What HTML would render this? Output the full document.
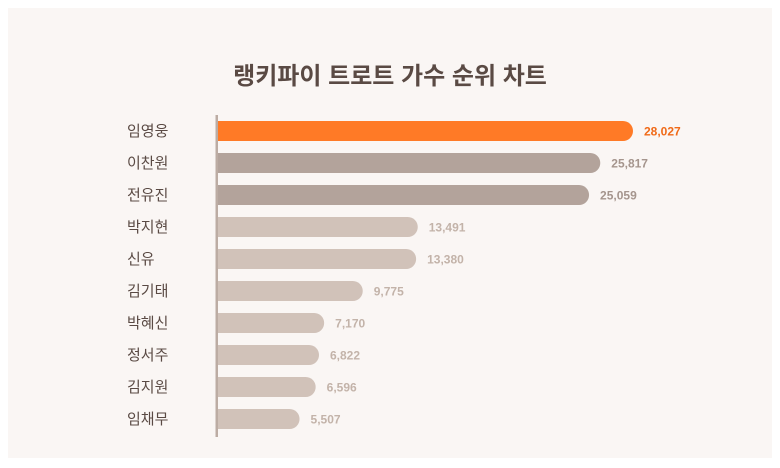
<!DOCTYPE html>
<html><head><meta charset="utf-8"><style>
html,body{margin:0;padding:0;background:#fff;}
body{width:780px;height:468px;position:relative;overflow:hidden;font-family:"Liberation Sans","Noto Sans CJK KR",sans-serif;}
#card{position:absolute;left:8px;top:8px;width:764px;height:450px;background:#faf6f4;}
</style></head><body>
<div id="card"></div>
<svg id="chart" width="780" height="468" style="position:absolute;left:0;top:0">
<text x="390" y="84" text-anchor="middle" font-size="24" font-weight="bold" fill="#5a4a44" font-family="Liberation Sans, Noto Sans CJK KR, sans-serif">랭키파이 트로트 가수 순위 차트</text>
</svg>
<script>
const categories=["임영웅","이찬원","전유진","박지현","신유","김기태","박혜신","정서주","김지원","임채무"];
const values=[28027,25817,25059,13491,13380,9775,7170,6822,6596,5507];
const valueLabels=["28,027","25,817","25,059","13,491","13,380","9,775","7,170","6,822","6,596","5,507"];
const svg=document.getElementById('chart');
const NS='http://www.w3.org/2000/svg';
const x0=218, xMax=633, maxV=28027;
const xs=v=>x0+(v/maxV)*(xMax-x0);
const ys=i=>131+i*32;
const barH=20;
function mk(t,a){const e=document.createElementNS(NS,t);for(const k in a)e.setAttribute(k,a[k]);svg.appendChild(e);return e;}
categories.forEach((c,i)=>{
  const y=ys(i);
  const fill=i===0?'#ff7a26':(i<3?'#b3a39b':'#d1c2b9');
  const lf=i===0?'#f06a18':(i<3?'#a5958d':'#c3b3a9');
  const w=xs(values[i])-x0;
  const b=mk('path',{d:`M${x0},${y-barH/2} H${x0+w-barH/2} A${barH/2},${barH/2} 0 0 1 ${x0+w-barH/2},${y+barH/2} H${x0} Z`,fill:fill});
  
  
  const l=mk('text',{x:127,y:y+5,'font-size':15,fill:'#5a4a44'});
  l.textContent=c;
  
  
  const v=mk('text',{x:x0+w+11,y:y+4.5,'font-size':12,'font-weight':'bold',fill:lf});
  v.textContent=valueLabels[i];
  
  
});
const ax=mk('rect',{x:215.5,y:115,width:2.5,height:322,fill:'#bcaca3'});


</script>
</body></html>
